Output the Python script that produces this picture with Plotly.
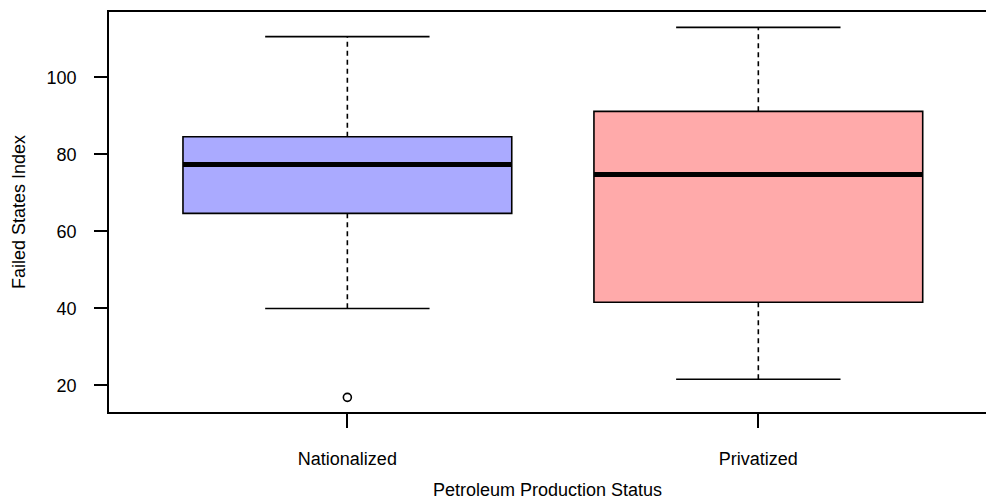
import plotly.graph_objects as go

categories = ["Nationalized", "Privatized"]
positions = [1, 2]
lower_whisker = [40.0, 21.6]
q1 = [64.7, 41.6]
median = [77.4, 74.8]
q3 = [84.6, 91.2]
upper_whisker = [110.6, 113.0]
outlier_x = [1]
outlier_y = [16.9]
fill_colors = ["#AAAAFF", "#FFAAAA"]

FONT = "Liberation Sans, Arial, sans-serif"
fig = go.Figure()

half_box = 0.4
half_cap = 0.2

for i, c in enumerate(categories):
    p = positions[i]
    # whiskers (dashed)
    fig.add_trace(go.Scatter(
        x=[p, p, None, p, p],
        y=[q3[i], upper_whisker[i], None, q1[i], lower_whisker[i]],
        mode="lines", line=dict(color="black", width=1.6, dash="5px,4px"),
        hoverinfo="skip", showlegend=False))
    # caps
    fig.add_trace(go.Scatter(
        x=[p - half_cap, p + half_cap, None, p - half_cap, p + half_cap],
        y=[upper_whisker[i], upper_whisker[i], None, lower_whisker[i], lower_whisker[i]],
        mode="lines", line=dict(color="black", width=1.6),
        hoverinfo="skip", showlegend=False))
    # box
    fig.add_trace(go.Box(
        x=[p], q1=[q1[i]], median=[median[i]], q3=[q3[i]],
        lowerfence=[q1[i]], upperfence=[q3[i]],
        width=2 * half_box, whiskerwidth=0,
        fillcolor=fill_colors[i], line=dict(color="black", width=1.6),
        boxpoints=False, showlegend=False, name=c))
    # thick median
    fig.add_trace(go.Scatter(
        x=[p - half_box, p + half_box], y=[median[i], median[i]],
        mode="lines", line=dict(color="black", width=5),
        hoverinfo="skip", showlegend=False))

fig.add_trace(go.Scatter(
    x=outlier_x, y=outlier_y, mode="markers",
    marker=dict(symbol="circle-open", size=8, color="black", line=dict(width=1.6)),
    showlegend=False))

fig.update_layout(
    width=986, height=500,
    margin=dict(l=109, r=0, t=12, b=88),
    plot_bgcolor="white", paper_bgcolor="white",
    font=dict(family=FONT, size=18, color="black"),
    xaxis=dict(
        range=[0.42, 2.554], tickmode="array", tickvals=positions, ticktext=categories,
        showgrid=False, zeroline=False, showline=True, linecolor="black", linewidth=1.6,
        mirror=True, ticks="outside", ticklen=14, tickwidth=1.6, tickcolor="black",
        ticklabelstandoff=16,
        title=dict(text="Petroleum Production Status", standoff=15, font=dict(size=18)),
    ),
    yaxis=dict(
        range=[13.1, 117.0], tickmode="array", tickvals=[20, 40, 60, 80, 100],
        showgrid=False, zeroline=False, showline=True, linecolor="black", linewidth=1.6,
        ticks="outside", ticklen=13, tickwidth=1.6, tickcolor="black",
        ticklabelstandoff=14,
        title=dict(text="Failed States Index", standoff=16, font=dict(size=18)),
    ),
)

fig.write_html(
    "out.html",
    config={"displayModeBar": False},
    post_script="document.body.style.margin='0px';document.body.style.overflow='hidden';",
)
